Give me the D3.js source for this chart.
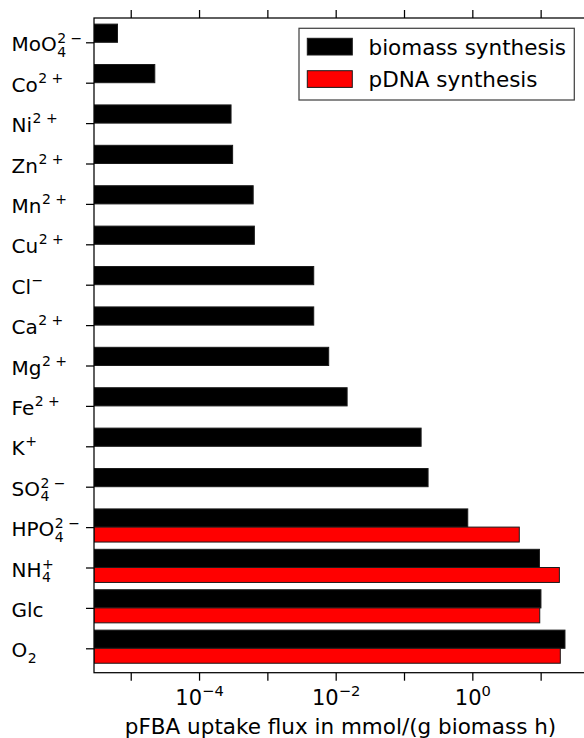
<!DOCTYPE html>
<html>
<head>
<meta charset="utf-8">
<script src="https://cdn.jsdelivr.net/npm/d3@7"></script>
<style>
  html, body { margin: 0; padding: 0; background: #fff; }
  svg { display: block; font-family: "DejaVu Sans", sans-serif; }
</style>
</head>
<body>
<svg id="chart" width="584" height="738"></svg>
<script>
// Uptake species, top to bottom (mathtext-like: _{sub}, ^{sup})
const categories = [
  "MoO_{4}^{2−}", "Co^{2+}", "Ni^{2+}", "Zn^{2+}", "Mn^{2+}", "Cu^{2+}",
  "Cl^{−}", "Ca^{2+}", "Mg^{2+}", "Fe^{2+}", "K^{+}", "SO_{4}^{2−}",
  "HPO_{4}^{2−}", "NH_{4}^{+}", "Glc", "O_{2}"
];

// pFBA uptake fluxes, mmol/(g biomass h)
const biomassFlux = [
  6.4e-6, 2.25e-5, 2.94e-4, 3.1e-4, 6.2e-4, 6.45e-4,
  4.77e-3, 4.77e-3, 7.9e-3, 1.47e-2, 0.178, 0.225,
  0.857, 9.6, 10.1, 22.7
];
const pdnaFlux = [
  null, null, null, null, null, null,
  null, null, null, null, null, null,
  4.87, 18.8, 9.7, 19.4
];

const seriesNames = ["biomass synthesis", "pDNA synthesis"];
const seriesColors = ["#000000", "#ff0000"];

const xTicks = [1e-5, 1e-4, 1e-3, 1e-2, 1e-1, 1e0, 1e1];
const xLabelExponents = [-4, -2, 0];

// ---- layout ----
const plotLeft = 94, plotRight = 587, plotTop = 18, plotBottom = 672.7;
const labelSize = 20, scriptSize = 14;
const svg = d3.select("#chart");

const x = d3.scaleLog().domain([2.9e-6, 47.7]).range([plotLeft, plotRight]);
const y = d3.scalePoint().domain(categories).range([42.3, 648.3]);
const step = y.step();

svg.append("clipPath").attr("id", "plot-clip")
  .append("rect").attr("x", plotLeft).attr("y", plotTop)
  .attr("width", plotRight - plotLeft).attr("height", plotBottom - plotTop);

const plot = svg.append("g").attr("clip-path", "url(#plot-clip)");

// biomass bars sit above the category tick, pDNA bars below it
const rows = categories.map((c, i) => ({ c, b: biomassFlux[i], p: pdnaFlux[i] }));

plot.selectAll("rect.bio").data(rows.filter(d => d.b != null)).join("rect")
  .attr("class", "bio")
  .attr("x", plotLeft)
  .attr("y", d => y(d.c) - 0.45 * step)
  .attr("width", d => x(d.b) - plotLeft)
  .attr("height", 0.45 * step)
  .attr("fill", seriesColors[0])
  .attr("stroke", "#1a1a1a").attr("stroke-width", 1);

plot.selectAll("rect.pdna").data(rows.filter(d => d.p != null)).join("rect")
  .attr("class", "pdna")
  .attr("x", plotLeft)
  .attr("y", d => y(d.c))
  .attr("width", d => x(d.p) - plotLeft)
  .attr("height", 0.37 * step)
  .attr("fill", seriesColors[1])
  .attr("stroke", "#1a1a1a").attr("stroke-width", 1);

// ---- axes ----
const tickStyle = g => {
  g.select(".domain").remove();
  g.selectAll(".tick line").attr("stroke", "#000").attr("stroke-width", 1.25);
};

svg.append("g").attr("transform", `translate(0,${plotTop})`)
  .call(d3.axisTop(x).tickValues(xTicks).tickSize(8).tickFormat(""))
  .call(tickStyle);

const xAxisBottom = svg.append("g").attr("transform", `translate(0,${plotBottom})`)
  .call(d3.axisBottom(x).tickValues(xTicks).tickSize(8).tickFormat(""))
  .call(tickStyle);

xAxisBottom.selectAll(".tick").each(function (v) {
  const e = Math.round(Math.log10(v));
  if (!xLabelExponents.includes(e)) return;
  const t = d3.select(this).append("text")
    .attr("y", 32.3).attr("text-anchor", "middle")
    .attr("fill", "#000").attr("font-size", 21)
    .attr("font-family", "DejaVu Sans, sans-serif");
  t.append("tspan").text("10");
  t.append("tspan").attr("font-size", 14.7).attr("dy", -8.5)
    .text(e < 0 ? "−" + Math.abs(e) : String(e));
});

svg.append("g").attr("transform", `translate(${plotLeft},0)`)
  .call(d3.axisLeft(y).tickSize(8).tickFormat(""))
  .call(tickStyle);

// frame (right edge lies just past the canvas)
svg.append("rect")
  .attr("x", plotLeft).attr("y", plotTop)
  .attr("width", plotRight - plotLeft).attr("height", plotBottom - plotTop)
  .attr("fill", "none").attr("stroke", "#000").attr("stroke-width", 1.25);

// ---- category labels with sub/superscripts, left aligned ----
function parseLabel(s) {
  const segs = [];
  let i = 0;
  while (i < s.length) {
    if (s[i] === "_" || s[i] === "^") {
      const seg = {};
      while (i < s.length && (s[i] === "_" || s[i] === "^")) {
        const kind = s[i] === "_" ? "sub" : "sup";
        const end = s.indexOf("}", i);
        seg[kind] = s.slice(i + 2, end);
        i = end + 1;
      }
      segs.push(seg);
    } else {
      let j = i;
      while (j < s.length && s[j] !== "_" && s[j] !== "^") j++;
      segs.push({ base: s.slice(i, j) });
      i = j;
    }
  }
  return segs;
}

const supText = s => s.length > 1 ? s.replace(/(\d)([+−])/, "$1 $2") : s;

// width of a short script string, used to stack sup over sub
const measure = (str, size) => {
  const t = svg.append("text").attr("font-size", size)
    .attr("xml:space", "preserve").text(str);
  const w = t.node().getComputedTextLength();
  t.remove();
  return w;
};

categories.forEach(c => {
  const t = svg.append("text")
    .attr("x", 11.5).attr("y", y(c) + 9)
    .attr("font-size", labelSize).attr("fill", "#000")
    .attr("xml:space", "preserve");
  let shift = 0; // current baseline offset
  parseLabel(c).forEach(seg => {
    if (seg.base != null) {
      t.append("tspan").attr("font-size", labelSize).attr("dy", -shift).text(seg.base);
      shift = 0;
    } else {
      if (seg.sub != null) {
        t.append("tspan").attr("font-size", scriptSize).attr("dx", 0.5)
          .attr("dy", 5.5 - shift).text(seg.sub);
        shift = 5.5;
      }
      if (seg.sup != null) {
        const lift = seg.sub != null ? -8 : -9;
        const back = seg.sub != null ? -measure(seg.sub, scriptSize) : 0.5;
        t.append("tspan").attr("font-size", scriptSize).attr("dx", back)
          .attr("dy", lift - shift).text(supText(seg.sup));
        shift = lift;
      }
    }
  });
});

// ---- axis title ----
svg.append("text")
  .attr("x", (plotLeft + plotRight) / 2).attr("y", 734)
  .attr("text-anchor", "middle").attr("font-size", 21.5).attr("fill", "#000")
  .text("pFBA uptake flux in mmol/(g biomass h)");

// ---- legend ----
const legend = svg.append("g");
legend.append("rect")
  .attr("x", 299).attr("y", 28.3).attr("width", 275.3).attr("height", 71.7)
  .attr("fill", "#fff").attr("stroke", "#444").attr("stroke-width", 1.25);

seriesNames.forEach((name, i) => {
  const yy = 38.3 + i * 32.4;
  legend.append("rect")
    .attr("x", 307.3).attr("y", yy).attr("width", 45).attr("height", 16.7)
    .attr("fill", seriesColors[i]).attr("stroke", "#1a1a1a").attr("stroke-width", 1);
  legend.append("text")
    .attr("x", 368.5).attr("y", 54.5 + i * 32)
    .attr("font-size", 21.5).attr("fill", "#000").text(name);
});
</script>
</body>
</html>
